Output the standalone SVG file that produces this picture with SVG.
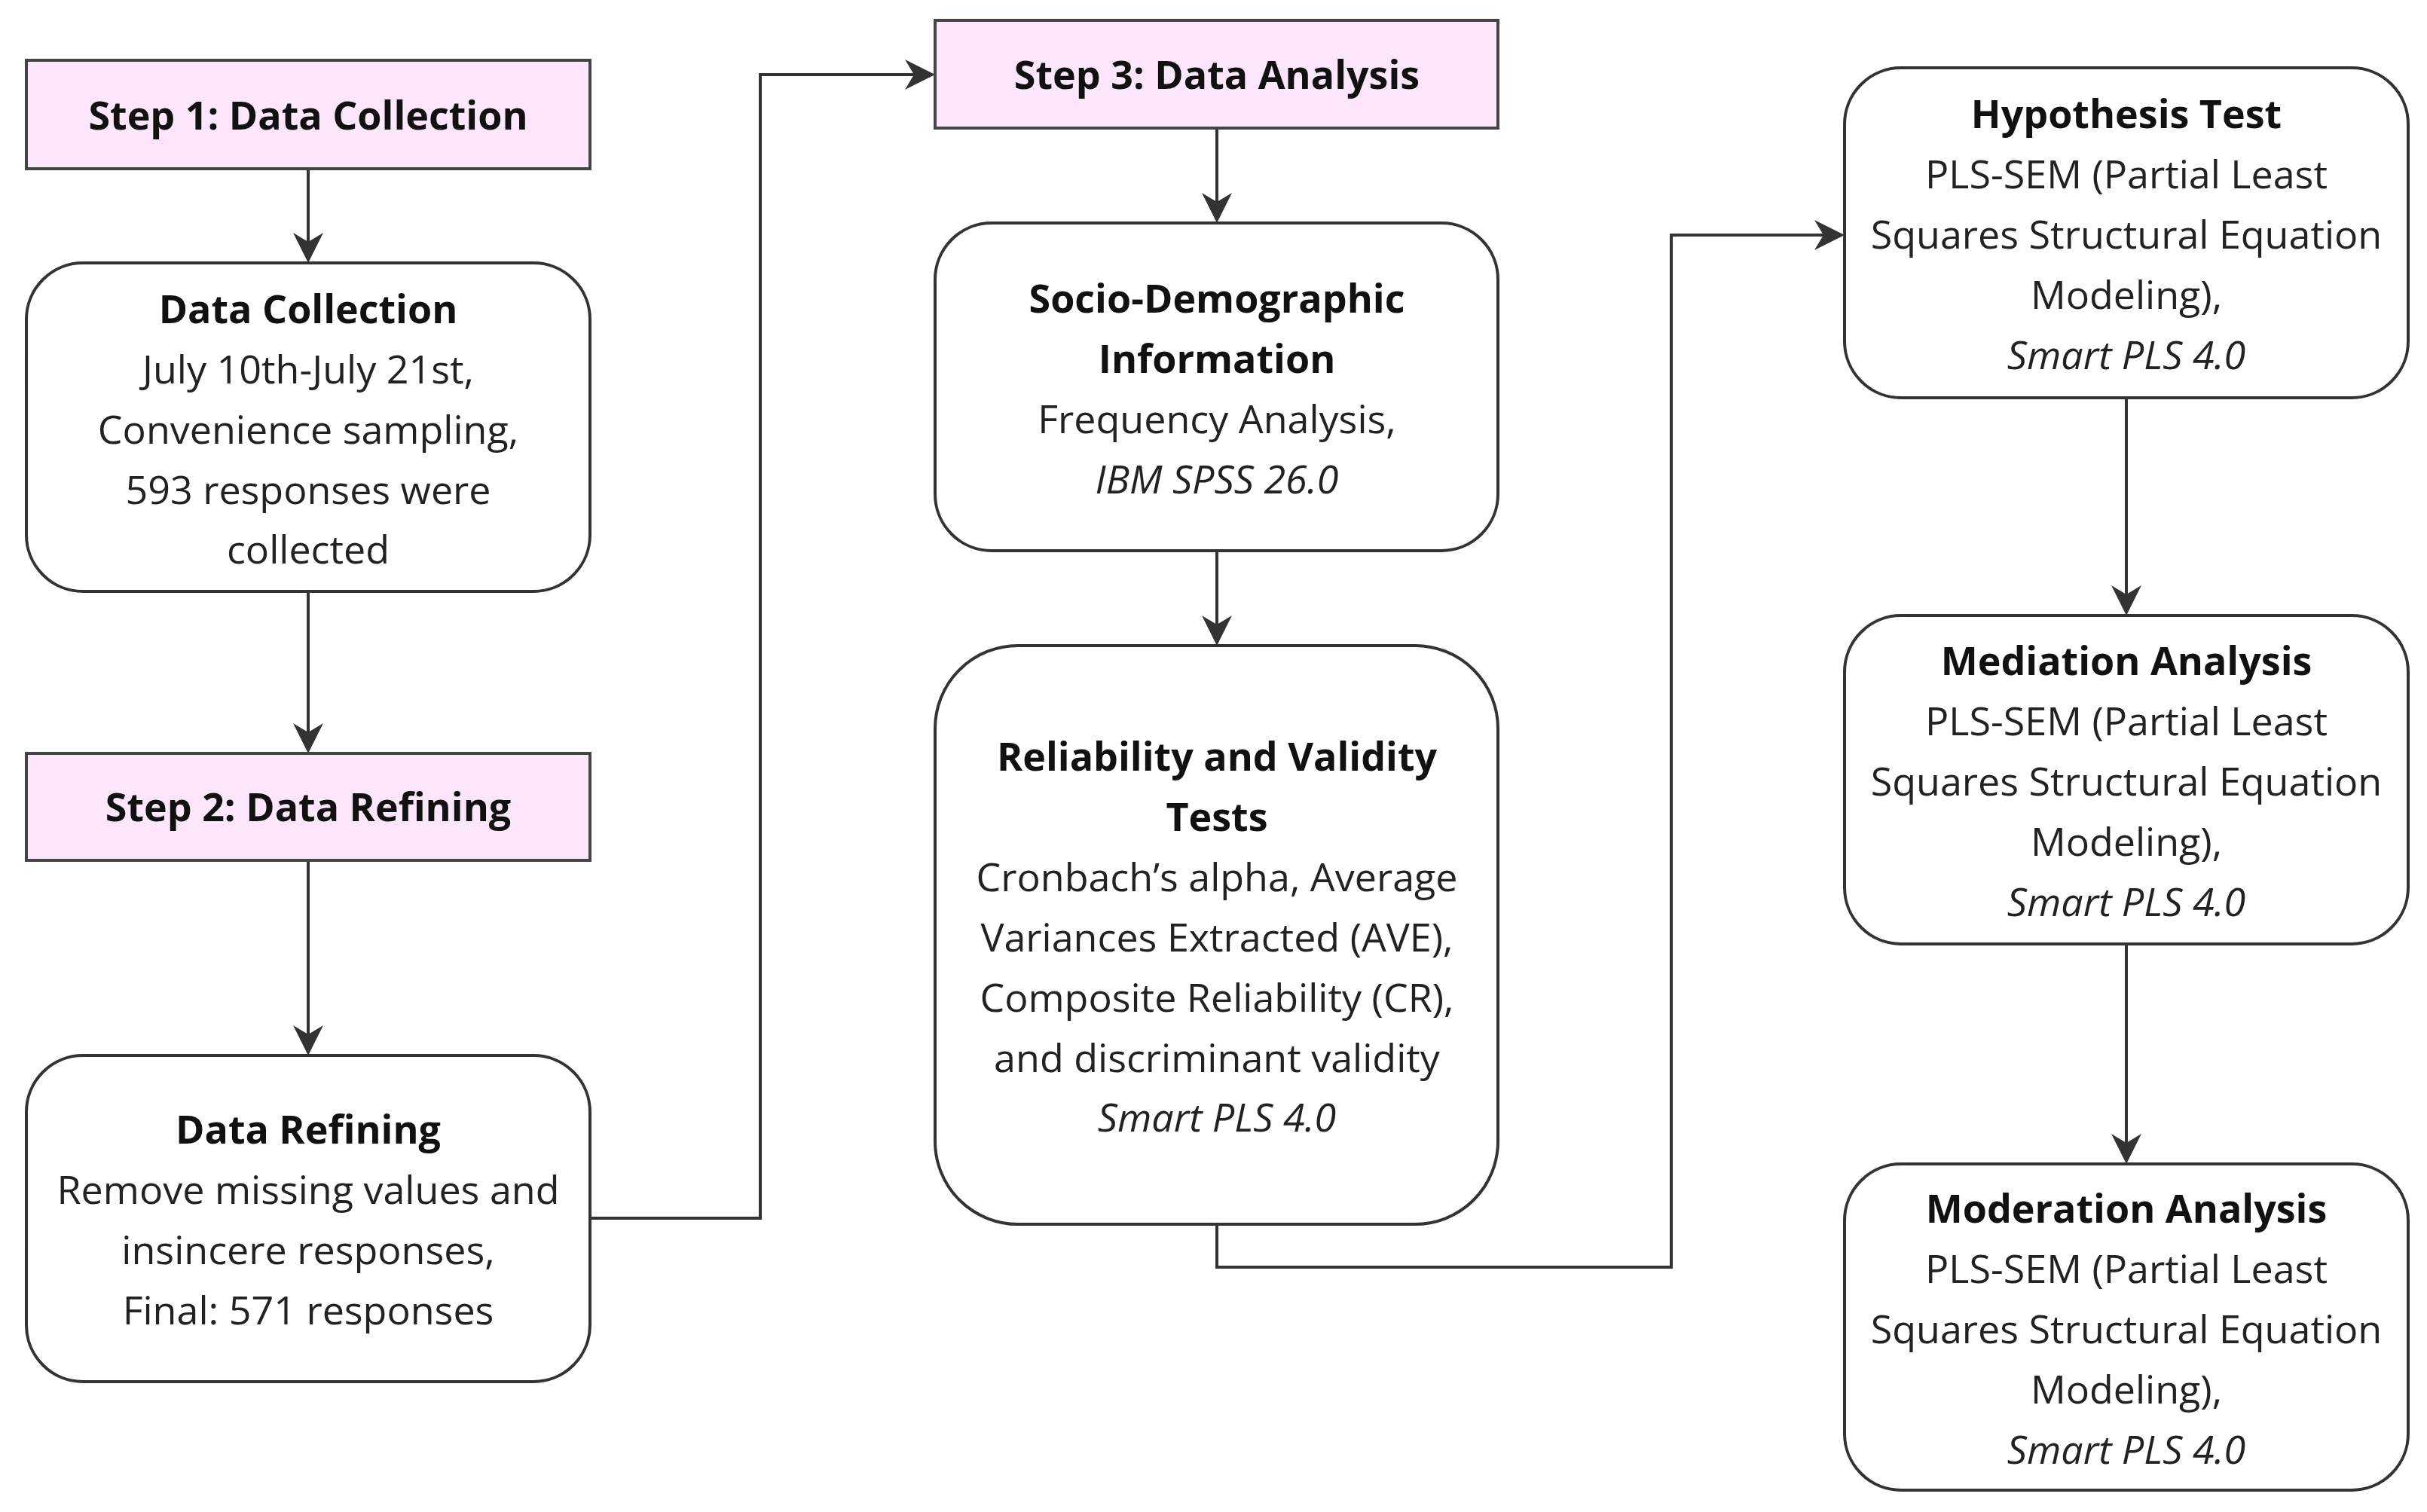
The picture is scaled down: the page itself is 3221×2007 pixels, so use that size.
<svg xmlns="http://www.w3.org/2000/svg" width="3221" height="2007" viewBox="0 0 3221 2007">
<defs>
<marker id="ah" markerWidth="10" markerHeight="10" refX="9" refY="5" orient="auto" markerUnits="strokeWidth"><path d="M0,0 L10,5 L0,10 L3,5 Z" fill="#333"/></marker>
<style>
.step{fill:#fbe6fb;stroke:#444;stroke-width:4}
.box{fill:#fff;stroke:#333;stroke-width:4}
text{font-family:"Open Sans","Noto Sans",sans-serif;font-size:52px;fill:#222;text-anchor:middle}
.b{font-weight:bold;fill:#111}
.i{font-style:italic}
.c{fill:none;stroke:#333;stroke-width:4;marker-end:url(#ah)}
</style>
</defs>
<rect width="3221" height="2007" fill="#fff"/>
<g id="connectors">
<path class="c" d="M409,224 V345"/>
<path class="c" d="M409,785 V996"/>
<path class="c" d="M409,1142 V1397"/>
<path class="c" d="M783,1617 H1009 V99 H1237"/>
<path class="c" d="M1615,170 V292"/>
<path class="c" d="M1615,731 V853"/>
<path class="c" d="M1615,1625 V1682 H2218 V312 H2444"/>
<path class="c" d="M2822,528 V813"/>
<path class="c" d="M2822,1253 V1541"/>
</g>
<g id="step1"><rect class="step" x="35" y="80" width="748" height="144"/><text class="b" x="409" y="172">Step 1: Data Collection</text></g>
<g id="datacollection"><rect class="box" x="35" y="349" width="748" height="436" rx="75"/>
<text x="409" y="429" class="b">Data Collection</text><text x="409" y="509">July 10th-July 21st,</text><text x="409" y="589">Convenience sampling,</text><text x="409" y="669">593 responses were</text><text x="409" y="748">collected</text></g>
<g id="step2"><rect class="step" x="35" y="1000" width="748" height="142"/><text class="b" x="409" y="1090">Step 2: Data Refining</text></g>
<g id="datarefining"><rect class="box" x="35" y="1401" width="748" height="433" rx="75"/>
<text x="409" y="1518" class="b">Data Refining</text><text x="409" y="1598">Remove missing values and</text><text x="409" y="1678">insincere responses,</text><text x="409" y="1758">Final: 571 responses</text></g>
<g id="step3"><rect class="step" x="1241" y="27" width="747" height="143"/><text class="b" x="1615" y="118">Step 3: Data Analysis</text></g>
<g id="socio"><rect class="box" x="1241" y="296" width="747" height="435" rx="75"/>
<text x="1615" y="415" class="b">Socio-Demographic</text><text x="1615" y="495" class="b">Information</text><text x="1615" y="575">Frequency Analysis,</text><text x="1615" y="655" class="i">IBM SPSS 26.0</text></g>
<g id="reliability"><rect class="box" x="1241" y="857" width="747" height="768" rx="110"/>
<text x="1615" y="1023" class="b">Reliability and Validity</text><text x="1615" y="1103" class="b">Tests</text><text x="1615" y="1183">Cronbach’s alpha, Average</text><text x="1615" y="1263">Variances Extracted (AVE),</text><text x="1615" y="1343">Composite Reliability (CR),</text><text x="1615" y="1423">and discriminant validity</text><text x="1615" y="1502" class="i">Smart PLS 4.0</text></g>
<g id="hypothesis"><rect class="box" x="2448" y="90" width="748" height="438" rx="75"/>
<text x="2822" y="170" class="b">Hypothesis Test</text><text x="2822" y="250">PLS-SEM (Partial Least</text><text x="2822" y="330">Squares Structural Equation</text><text x="2822" y="410">Modeling),</text><text x="2822" y="490" class="i">Smart PLS 4.0</text></g>
<g id="mediation"><rect class="box" x="2448" y="817" width="748" height="436" rx="75"/>
<text x="2822" y="896" class="b">Mediation Analysis</text><text x="2822" y="976">PLS-SEM (Partial Least</text><text x="2822" y="1056">Squares Structural Equation</text><text x="2822" y="1136">Modeling),</text><text x="2822" y="1216" class="i">Smart PLS 4.0</text></g>
<g id="moderation"><rect class="box" x="2448" y="1545" width="748" height="433" rx="75"/>
<text x="2822" y="1623" class="b">Moderation Analysis</text><text x="2822" y="1703">PLS-SEM (Partial Least</text><text x="2822" y="1783">Squares Structural Equation</text><text x="2822" y="1863">Modeling),</text><text x="2822" y="1943" class="i">Smart PLS 4.0</text></g>
</svg>
